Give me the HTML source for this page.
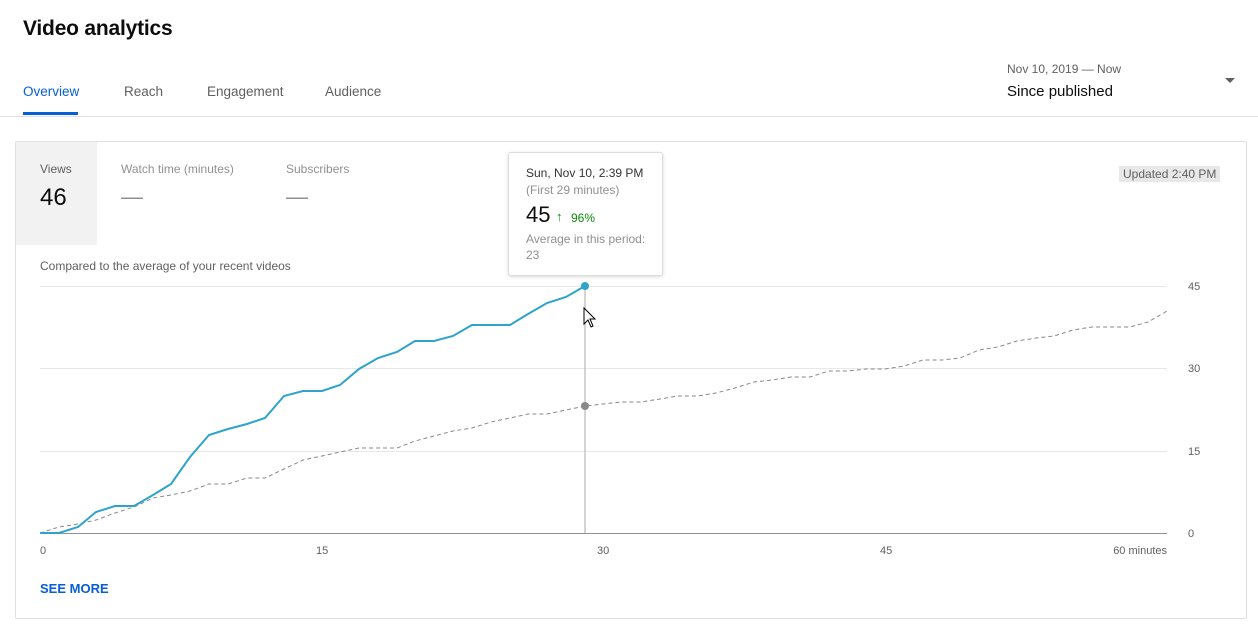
<!DOCTYPE html>
<html><head><style>
body{margin:0;width:1258px;height:633px;background:#fff;font-family:"Liberation Sans",sans-serif;position:relative;overflow:hidden}
.a{position:absolute;white-space:nowrap}
</style></head><body>
<div class="a" style="left:23px;top:17px;font-size:21px;color:#0d0d0d;font-weight:bold;letter-spacing:-0.2px">Video analytics</div>
<div class="a" style="left:23px;top:84px;font-size:13.5px;color:#065fd4">Overview</div>
<div class="a" style="left:23px;top:112px;width:55px;height:3px;background:#065fd4"></div>
<div class="a" style="left:124px;top:84px;font-size:13.5px;color:#606060">Reach</div>
<div class="a" style="left:207px;top:84px;font-size:13.5px;color:#606060">Engagement</div>
<div class="a" style="left:325px;top:84px;font-size:13.5px;color:#606060">Audience</div>
<div class="a" style="left:1007px;top:62px;font-size:12px;color:#606060">Nov 10, 2019 — Now</div>
<div class="a" style="left:1007px;top:83px;font-size:15px;color:#0d0d0d">Since published</div>
<div class="a" style="left:1225px;top:78px;width:0;height:0;border-left:5px solid transparent;border-right:5px solid transparent;border-top:5px solid #606060"></div>
<div class="a" style="left:0;top:116px;width:1258px;height:1px;background:#e0e0e0"></div>
<div class="a" style="left:15px;top:141px;width:1230px;height:476px;border:1px solid #e0e0e0;border-radius:2px"></div>
<div class="a" style="left:16px;top:142px;width:81px;height:103px;background:#f2f2f2"></div>
<div class="a" style="left:40px;top:162px;font-size:12px;color:#606060">Views</div>
<div class="a" style="left:40px;top:184px;font-size:24px;color:#0d0d0d">46</div>
<div class="a" style="left:121px;top:162px;font-size:12px;color:#909090">Watch time (minutes)</div>
<div class="a" style="left:121px;top:184px;font-size:22px;color:#909090">—</div>
<div class="a" style="left:286px;top:162px;font-size:12px;color:#909090">Subscribers</div>
<div class="a" style="left:286px;top:184px;font-size:22px;color:#909090">—</div>
<div class="a" style="left:1119px;top:166px;font-size:12px;color:#606060;background:#e8e8e8;padding:1px 4px">Updated 2:40 PM</div>
<div class="a" style="left:40px;top:259px;font-size:12px;color:#606060">Compared to the average of your recent videos</div>
<svg class="a" style="left:0;top:0" width="1258" height="633">
<g stroke="#e8e8e8" stroke-width="1">
<line x1="40" y1="286.5" x2="1167" y2="286.5"/><line x1="40" y1="368.5" x2="1167" y2="368.5"/><line x1="40" y1="451.5" x2="1167" y2="451.5"/></g>
<line x1="40" y1="533.5" x2="1167" y2="533.5" stroke="#909090"/>
<line x1="585" y1="286" x2="585" y2="533" stroke="#aaa"/>
<g font-family="Liberation Sans,sans-serif" font-size="11" fill="#606060">
<text x="1188" y="290">45</text><text x="1188" y="372">30</text><text x="1188" y="455">15</text><text x="1188" y="537">0</text>
<text x="40" y="554">0</text><text x="316" y="554">15</text><text x="597" y="554">30</text><text x="880" y="554">45</text><text x="1167" y="554" text-anchor="end">60 minutes</text></g>
<polyline fill="none" stroke="#888" stroke-width="1" stroke-dasharray="4,3" points="40,533 59,527 78,524 96,520 115,513 134,507 153,498 171,495 190,491 209,484 228,484 247,478 265,478 284,469 303,460 322,456 340,452 359,448 378,448 397,448 415,441 434,436 453,431 472,428 491,422 510,418 528,414 547,414 566,410 585,406 603,404 622,402 641,402 660,399 678,396 697,396 716,393 735,388 754,382 772,380 791,377 810,377 829,371 848,371 866,369 885,369 904,366 923,360 942,360 960,358 979,350 998,347 1017,341 1036,338 1054,336 1073,330 1092,327 1111,327 1130,327 1148,322 1167,311"/>
<polyline fill="none" stroke="#2fa3cc" stroke-width="2" points="40,533 59,533 78,527 96,512 115,506 134,506 153,495 171,484 190,457 209,435 228,429 247,424 265,418 284,396 303,391 322,391 340,385 359,369 378,358 397,352 415,341 434,341 453,336 472,325 491,325 510,325 528,314 547,303 566,297 585,286"/>
<circle cx="585" cy="286" r="4" fill="#2fa3cc"/>
<circle cx="585" cy="406" r="4" fill="#888"/>
<path d="M584,308 L584,324 L588,320 L591,327 L593,326 L590,319 L595,319 Z" fill="#fff" stroke="#000" stroke-width="1"/>
</svg>
<div class="a" style="left:508px;top:152px;width:153px;height:122px;background:#fff;border:1px solid #ddd;border-radius:3px;box-shadow:0 1px 3px rgba(0,0,0,.15)"></div>
<div class="a" style="left:526px;top:166px;font-size:12px;color:#333">Sun, Nov 10, 2:39 PM</div>
<div class="a" style="left:526px;top:183px;font-size:12px;color:#909090">(First 29 minutes)</div>
<div class="a" style="left:526px;top:202px;font-size:22px;color:#0d0d0d">45</div>
<div class="a" style="left:556px;top:209px;font-size:13px;color:#0a8a0a;font-weight:bold">↑</div>
<div class="a" style="left:571px;top:211px;font-size:12px;color:#0a8a0a">96%</div>
<div class="a" style="left:526px;top:232px;font-size:12px;color:#909090">Average in this period:</div>
<div class="a" style="left:526px;top:248px;font-size:12px;color:#909090">23</div>
<div class="a" style="left:40px;top:581px;font-size:13px;color:#065fd4;font-weight:bold">SEE MORE</div>
</body></html>
